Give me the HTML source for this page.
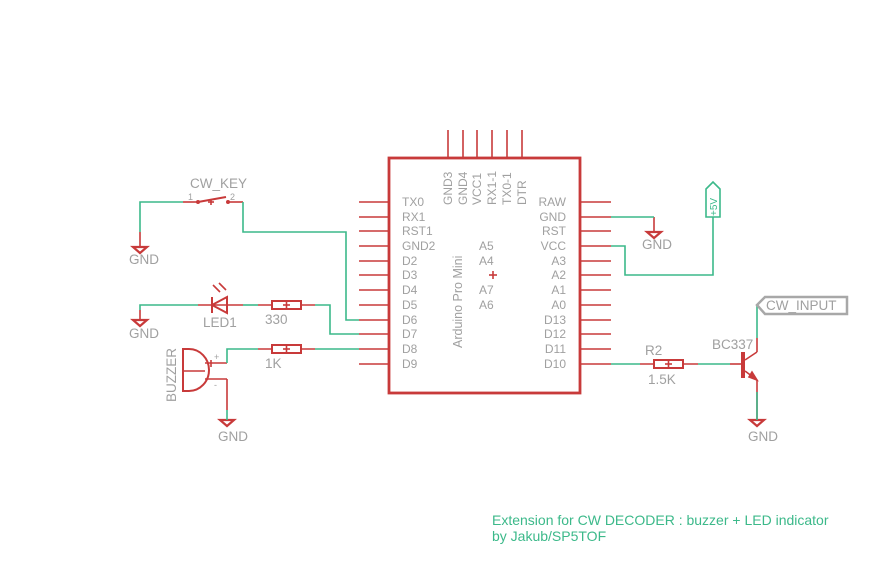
<!DOCTYPE html>
<html><head><meta charset="utf-8"><style>
html,body{margin:0;padding:0;background:#fff;}
svg{display:block;}
text{font-family:"Liberation Sans",sans-serif;}
</style></head><body>
<svg width="893" height="585" viewBox="0 0 893 585" xmlns="http://www.w3.org/2000/svg">
<g fill="none" stroke-width="1.6">
<!-- Arduino box -->
<rect x="389" y="158" width="191" height="235" stroke="#c83a3a" stroke-width="2.8"/>
<g stroke="#c83a3a">
<line x1="448" y1="130" x2="448" y2="158"/><line x1="463" y1="130" x2="463" y2="158"/><line x1="477" y1="130" x2="477" y2="158"/><line x1="492" y1="130" x2="492" y2="158"/><line x1="507" y1="130" x2="507" y2="158"/><line x1="522" y1="130" x2="522" y2="158"/>
<line x1="359" y1="202" x2="389" y2="202"/><line x1="359" y1="217" x2="389" y2="217"/><line x1="359" y1="231" x2="389" y2="231"/><line x1="359" y1="246" x2="389" y2="246"/><line x1="359" y1="261" x2="389" y2="261"/><line x1="359" y1="275" x2="389" y2="275"/><line x1="359" y1="290" x2="389" y2="290"/><line x1="359" y1="305" x2="389" y2="305"/><line x1="359" y1="320" x2="389" y2="320"/><line x1="359" y1="334" x2="389" y2="334"/><line x1="359" y1="349" x2="389" y2="349"/><line x1="359" y1="364" x2="389" y2="364"/>
<line x1="580" y1="202" x2="611" y2="202"/><line x1="580" y1="217" x2="611" y2="217"/><line x1="580" y1="231" x2="611" y2="231"/><line x1="580" y1="246" x2="611" y2="246"/><line x1="580" y1="261" x2="611" y2="261"/><line x1="580" y1="275" x2="611" y2="275"/><line x1="580" y1="290" x2="611" y2="290"/><line x1="580" y1="305" x2="611" y2="305"/><line x1="580" y1="320" x2="611" y2="320"/><line x1="580" y1="334" x2="611" y2="334"/><line x1="580" y1="349" x2="611" y2="349"/><line x1="580" y1="364" x2="611" y2="364"/>
<line x1="489" y1="275" x2="497" y2="275"/><line x1="493" y1="271" x2="493" y2="279"/>
<!-- switch -->
<line x1="183" y1="202" x2="198" y2="202"/><line x1="228" y1="202" x2="243" y2="202"/>
<line x1="198" y1="202" x2="226" y2="197" stroke-width="2"/>
<line x1="208" y1="202" x2="214" y2="202"/><line x1="211" y1="199" x2="211" y2="205"/>
<!-- GND pins -->
<line x1="140" y1="232" x2="140" y2="247"/><line x1="140" y1="310" x2="140" y2="320"/>
<line x1="227" y1="379" x2="227" y2="410"/><line x1="205" y1="379" x2="227" y2="379"/>
<line x1="205" y1="363" x2="227" y2="363"/>
<line x1="654" y1="217" x2="654" y2="232"/>
<line x1="757" y1="392" x2="757" y2="420"/>
<!-- LED -->
<line x1="198" y1="305" x2="243" y2="305"/>
<line x1="212" y1="297" x2="212" y2="313" stroke-width="2"/>
<polygon points="212,305 227,297 227,313" stroke-width="2"/>
<line x1="213" y1="285" x2="220" y2="292"/><line x1="219" y1="283" x2="226" y2="290"/>
<!-- resistors -->
<line x1="258" y1="305" x2="315" y2="305"/>
<rect x="272" y="301" width="29" height="8" stroke-width="2" fill="#fff"/>
<line x1="258" y1="349" x2="315" y2="349"/>
<rect x="272" y="345" width="29" height="8" stroke-width="2" fill="#fff"/>
<line x1="640" y1="364" x2="698" y2="364"/>
<rect x="654" y="360" width="29" height="8" stroke-width="2" fill="#fff"/>
<line x1="283" y1="305" x2="290" y2="305"/><line x1="286.5" y1="301" x2="286.5" y2="309"/>
<line x1="283" y1="349" x2="290" y2="349"/><line x1="286.5" y1="345" x2="286.5" y2="353"/>
<line x1="665" y1="364" x2="672" y2="364"/><line x1="668.5" y1="360" x2="668.5" y2="368"/>
<!-- buzzer -->
<path d="M183,349 L189,349 A20,21 0 0 1 189,391 L183,391 Z" stroke-width="2"/>
<line x1="183" y1="371" x2="205" y2="371"/>
<line x1="211" y1="360" x2="211" y2="367"/>
<!-- transistor -->
<line x1="730" y1="364" x2="742" y2="364"/>
<line x1="743" y1="352" x2="743" y2="378" stroke-width="4"/>
<line x1="745" y1="360" x2="757" y2="352"/><line x1="757" y1="352" x2="757" y2="338"/>
<line x1="745" y1="371" x2="757" y2="380"/><line x1="757" y1="380" x2="757" y2="392"/>
<polygon points="757,380 749,377 752,372" fill="#c83a3a"/>
</g>
<!-- GND symbols -->
<g stroke="#c83a3a" stroke-width="2.2">
<polygon points="133,247 147,247 140,253"/>
<polygon points="133,320 147,320 140,326"/>
<polygon points="220,420 234,420 227,426"/>
<polygon points="647,232 661,232 654,238"/>
<polygon points="750,420 764,420 757,426"/>
</g>
<circle cx="198" cy="202" r="2" fill="#c83a3a"/><circle cx="228" cy="202" r="2" fill="#c83a3a"/>
<!-- green wires -->
<g stroke="#3cb98a">
<polyline points="140,232 140,202 183,202"/>
<polyline points="243,202 243,232 346,232 346,320 359,320"/>
<polyline points="140,310 140,305 198,305"/>
<line x1="243" y1="305" x2="258" y2="305"/>
<polyline points="315,305 330,305 330,334 359,334"/>
<polyline points="227,363 227,349 258,349"/>
<line x1="315" y1="349" x2="359" y2="349"/>
<line x1="227" y1="410" x2="227" y2="420"/>
<polyline points="611,217 654,217"/>
<polyline points="611,246 625,246 625,275 713,275 713,217"/>
<line x1="611" y1="364" x2="640" y2="364"/>
<line x1="698" y1="364" x2="730" y2="364"/>
<line x1="757" y1="338" x2="757" y2="305"/>
<line x1="757" y1="392" x2="757" y2="420"/>
<polygon points="706,217 706,189 713,182 720,189 720,217"/>
</g>
<polygon points="757,305 765,297 847,297 847,314 765,314" stroke="#a8a8a8" stroke-width="2.5"/>
</g>
<!-- labels -->
<g fill="#a0a0a0" font-size="12">
<text x="402" y="206">TX0</text><text x="402" y="221">RX1</text><text x="402" y="235">RST1</text><text x="402" y="250">GND2</text><text x="402" y="265">D2</text><text x="402" y="279">D3</text><text x="402" y="294">D4</text><text x="402" y="309">D5</text><text x="402" y="324">D6</text><text x="402" y="338">D7</text><text x="402" y="353">D8</text><text x="402" y="368">D9</text>
<g text-anchor="end"><text x="566" y="206">RAW</text><text x="566" y="221">GND</text><text x="566" y="235">RST</text><text x="566" y="250">VCC</text><text x="566" y="265">A3</text><text x="566" y="279">A2</text><text x="566" y="294">A1</text><text x="566" y="309">A0</text><text x="566" y="324">D13</text><text x="566" y="338">D12</text><text x="566" y="353">D11</text><text x="566" y="368">D10</text></g>
<text x="479" y="250">A5</text><text x="479" y="265">A4</text><text x="479" y="294">A7</text><text x="479" y="309">A6</text>
<text transform="translate(452,205) rotate(-90)">GND3</text>
<text transform="translate(467,205) rotate(-90)">GND4</text>
<text transform="translate(481,205) rotate(-90)">VCC1</text>
<text transform="translate(496,205) rotate(-90)">RX1-1</text>
<text transform="translate(511,205) rotate(-90)">TX0-1</text>
<text transform="translate(526,205) rotate(-90)">DTR</text>
<text transform="translate(462,348) rotate(-90)" font-size="12.5">Arduino Pro Mini</text>
<g font-size="13.5">
<text x="190" y="188">CW_KEY</text>
<text x="129" y="264">GND</text><text x="129" y="338">GND</text><text x="218" y="441">GND</text><text x="642" y="249">GND</text><text x="748" y="441">GND</text>
<text x="203" y="327">LED1</text><text x="265" y="324">330</text><text x="265" y="368">1K</text>
<text x="645" y="355">R2</text><text x="648" y="384">1.5K</text><text x="712" y="349">BC337</text>
<text x="766" y="310">CW_INPUT</text>
<text transform="translate(176,402) rotate(-90)">BUZZER</text>
</g>
<text x="188" y="200" font-size="9">1</text><text x="230" y="200" font-size="9">2</text>
<text x="214" y="360" font-size="9">+</text><text x="214" y="388" font-size="9">-</text>
</g>
<text transform="translate(717,216) rotate(-90)" fill="#3cb98a" font-size="10">+5V</text>
<g fill="#3cb98a" font-size="14">
<text x="492" y="525">Extension for CW DECODER : buzzer + LED indicator</text>
<text x="492" y="541">by Jakub/SP5TOF</text>
</g>
</svg>
</body></html>
